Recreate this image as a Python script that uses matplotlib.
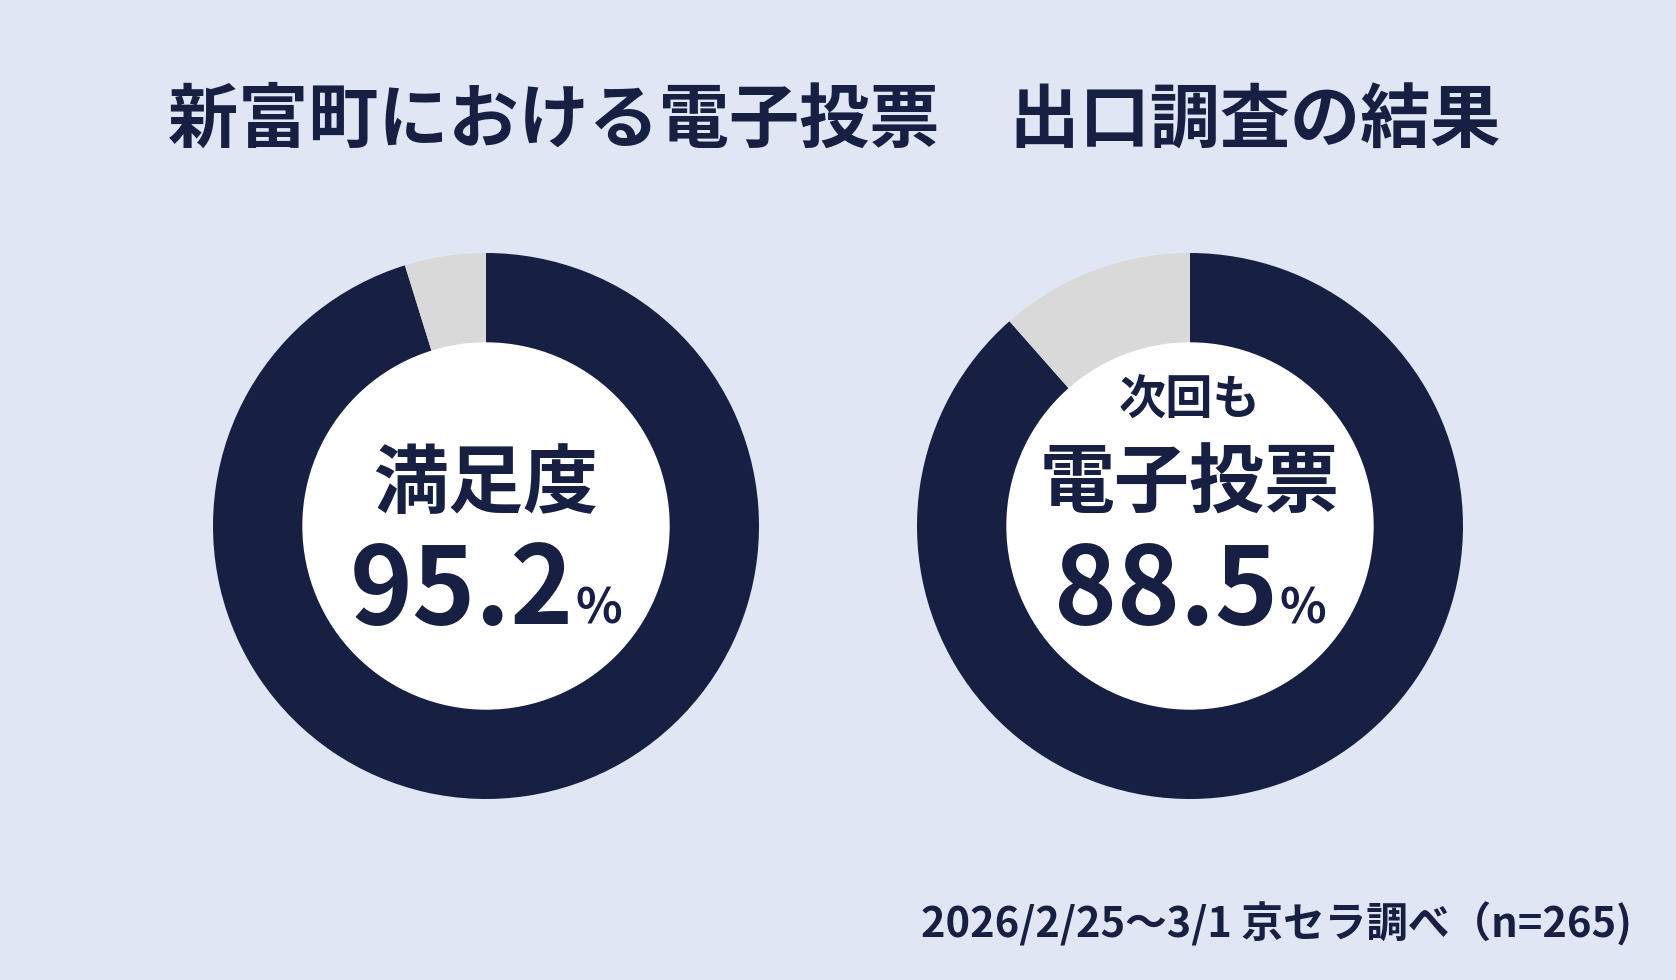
import matplotlib
matplotlib.use("Agg")
import matplotlib.pyplot as plt
from matplotlib.patches import Circle

plt.rcParams['font.family'] = ['Noto Sans CJK JP', 'DejaVu Sans']

# data
title = "新富町における電子投票　出口調査の結果"
labels_top = ["", "次回も"]
labels_main = ["満足度", "電子投票"]
values = [95.2, 88.5]
footer = "2026/2/25～3/1 京セラ調べ（n=265)"

navy = "#172042"
gray = "#d9d9d9"
bg = "#e0e6f4"

W, H = 1676, 980
fig = plt.figure(figsize=(W / 100, H / 100), dpi=100, facecolor=bg)
ax = fig.add_axes([0, 0, 1, 1])
ax.set_facecolor(bg)

centers_x = [486, 1190]
cy = H - 526
r_out, r_in = 273, 183

for cx, v in zip(centers_x, values):
    ax.pie([v, 100 - v], colors=[navy, gray], startangle=90, counterclock=False,
           center=(cx, cy), radius=r_out, frame=True,
           wedgeprops=dict(linewidth=0))
    ax.add_patch(Circle((cx, cy), r_in, color="white", zorder=3))

ax.set_xlim(0, W)
ax.set_ylim(0, H)
ax.set_aspect("auto")
ax.axis("off")

ax.text(W / 2 - 4, H - 142, title, ha="center", va="baseline", fontsize=50.5,
        fontweight="bold", color=navy)

nums = []
for cx, top, main, v in zip(centers_x, labels_top, labels_main, values):
    if top:
        ax.text(cx, H - 415, top, ha="center", va="baseline", fontsize=34,
                fontweight="bold", color=navy, zorder=4)
    ax.text(cx, H - 507, main, ha="center", va="baseline", fontsize=54,
            fontweight="bold", color=navy, zorder=4)
    t1 = ax.text(cx, H - 624, f"{v:.1f}", ha="left", va="baseline", fontsize=77,
                 fontweight="bold", color=navy, zorder=4)
    t2 = ax.text(cx, H - 624, "%", ha="left", va="baseline", fontsize=35,
                 fontweight="bold", color=navy, zorder=4)
    nums.append((cx, t1, t2))

ax.text(1632, H - 937, footer, ha="right", va="baseline", fontsize=30,
        fontweight="bold", color=navy)

# center the number + % group under each label
fig.canvas.draw()
r = fig.canvas.get_renderer()
gap = 2
for cx, t1, t2 in nums:
    w1 = t1.get_window_extent(r).width
    w2 = t2.get_window_extent(r).width
    x0 = cx - (w1 + gap + w2) / 2
    t1.set_x(x0)
    t2.set_x(x0 + w1 + gap)

fig.savefig("out.png", dpi=100, facecolor=bg)
